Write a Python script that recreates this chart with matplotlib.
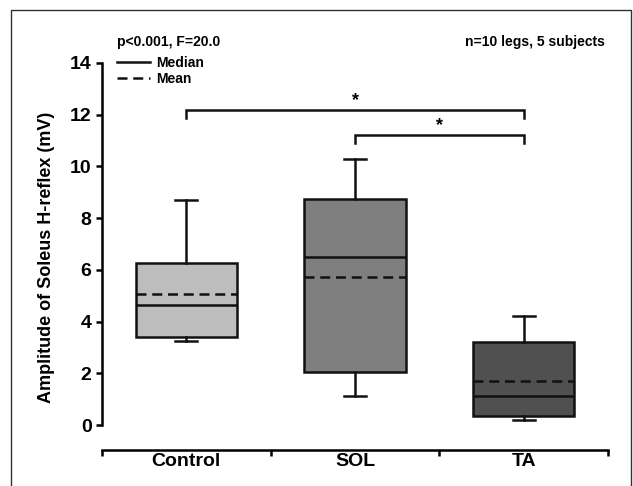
import matplotlib.pyplot as plt
from matplotlib.lines import Line2D

plt.rcParams['font.family'] = ['Liberation Sans', 'DejaVu Sans']
plt.rcParams['font.weight'] = 'bold'

# box statistics (mV)
groups = ['Control', 'SOL', 'TA']
q1 = [3.41, 2.04, 0.35]
med = [4.64, 6.48, 1.12]
q3 = [6.25, 8.74, 3.20]
mean = [5.05, 5.72, 1.70]
whislo = [3.25, 1.13, 0.18]
whishi = [8.70, 10.27, 4.23]
colors = ['#bdbdbd', '#7f7f7f', '#505050']

# significance brackets (group index pairs, bracket height)
pairs = [(1, 3), (2, 3)]
heights = [12.18, 11.21]

fig = plt.figure(figsize=(6.33, 4.86), dpi=100)
ax = fig.add_axes([102 / 633, 1 - 425 / 486, 506 / 633, 362 / 486])

stats = []
for i in range(len(groups)):
    stats.append(dict(label=groups[i], q1=q1[i], med=med[i], q3=q3[i],
                      mean=mean[i], whislo=whislo[i], whishi=whishi[i],
                      fliers=[]))

lw = 1.8
dash = (0, (4, 2.3))
bp = ax.bxp(stats, positions=[1, 2, 3], widths=0.6, capwidths=0.13,
            patch_artist=True, showmeans=True, meanline=True,
            boxprops=dict(linewidth=lw, edgecolor='#111111'),
            medianprops=dict(color='#111111', linewidth=lw),
            meanprops=dict(color='#111111', linewidth=lw, linestyle=dash),
            whiskerprops=dict(color='#111111', linewidth=lw),
            capprops=dict(color='#111111', linewidth=lw))
for patch, c in zip(bp['boxes'], colors):
    patch.set_facecolor(c)

ax.set_xlim(0.5, 3.5)
ax.set_ylim(0, 14)
ax.set_yticks(range(0, 15, 2))
ax.set_xticks([0.5, 1.5, 2.5, 3.5])
ax.set_xticklabels([])
ax.set_xticks([1, 2, 3], minor=True)
ax.set_xticklabels(groups, minor=True)
ax.tick_params(axis='x', which='minor', length=0, labelsize=14, pad=2)
ax.tick_params(axis='x', which='major', length=4, width=lw, direction='out')
ax.tick_params(axis='y', length=4.5, width=lw, direction='out', labelsize=14, pad=3)
for lab in ax.get_xticklabels(minor=True) + ax.get_yticklabels():
    lab.set_fontweight('bold')

for s in ['top', 'right']:
    ax.spines[s].set_visible(False)
ax.spines['left'].set_linewidth(lw)
ax.spines['bottom'].set_linewidth(lw)
ax.spines['bottom'].set_position(('outward', 18))

ax.set_ylabel('Amplitude of Soleus H-reflex (mV)', fontsize=13,
              fontweight='bold')
ax.yaxis.set_label_coords(-0.093, 0.464)

# brackets
drop = 0.3
for (a, b), h in zip(pairs, heights):
    ax.plot([a, a, b, b], [h - drop, h, h, h - drop], color='#111111',
            lw=lw, clip_on=False, solid_joinstyle='miter')
    ax.text((a + b) / 2, h + 0.35, '*', ha='center', va='center',
            fontsize=13, fontweight='bold')

# legend for median / mean lines
handles = [Line2D([], [], color='#111111', lw=lw),
           Line2D([], [], color='#111111', lw=lw, linestyle=dash)]
fig.legend(handles, ['Median', 'Mean'], loc='upper left',
           bbox_to_anchor=(117 / 633, 1 - 56 / 486), frameon=False,
           prop=dict(size=10, weight='bold'), borderpad=0, borderaxespad=0,
           handlelength=2.4, handletextpad=0.45, labelspacing=0.15)

fig.text(117 / 633, 1 - 42 / 486, 'p<0.001, F=20.0', fontsize=10,
         fontweight='bold', va='center', ha='left')
fig.text(605 / 633, 1 - 42 / 486, 'n=10 legs, 5 subjects', fontsize=10,
         fontweight='bold', va='center', ha='right')

# outer frame (left, top, right)
fx0, fx1, fy1 = 11 / 633, 631 / 633, 1 - 10 / 486
fig.add_artist(Line2D([fx0, fx0, fx1, fx1], [0, fy1, fy1, 0],
                      transform=fig.transFigure, color='#333333', lw=1))

fig.savefig('out.png', dpi=100)
